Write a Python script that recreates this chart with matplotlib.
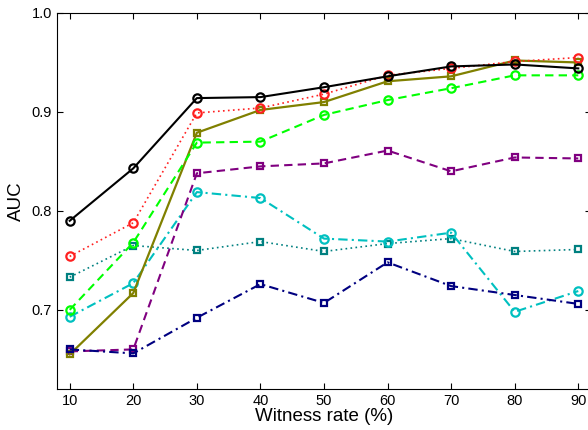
import matplotlib
matplotlib.use("Agg")
import matplotlib.pyplot as plt

plt.rcParams['font.family'] = ['Liberation Sans', 'DejaVu Sans']

rates = [10, 20, 30, 40, 50, 60, 70, 80, 90]
auc_black = [0.790, 0.843, 0.914, 0.915, 0.925, 0.936, 0.946, 0.948, 0.944]
auc_red = [0.754, 0.788, 0.899, 0.904, 0.918, 0.937, 0.944, 0.951, 0.955]
auc_olive = [0.655, 0.717, 0.879, 0.902, 0.910, 0.931, 0.936, 0.952, 0.950]
auc_green = [0.700, 0.768, 0.869, 0.870, 0.897, 0.912, 0.924, 0.937, 0.937]
auc_purple = [0.658, 0.660, 0.838, 0.845, 0.848, 0.861, 0.840, 0.854, 0.853]
auc_cyan = [0.693, 0.727, 0.819, 0.813, 0.772, 0.769, 0.778, 0.698, 0.719]
auc_teal = [0.733, 0.765, 0.760, 0.769, 0.759, 0.767, 0.772, 0.759, 0.761]
auc_navy = [0.660, 0.656, 0.692, 0.726, 0.707, 0.748, 0.724, 0.715, 0.706]

dotted = (0, (1, 2))
dashed = (0, (4, 2.5))
dashdot = (0, (4.5, 2, 1, 2))

series = [
    (auc_teal, '#008080', dotted, 's', 1.2),
    (auc_cyan, '#00c0c0', dashdot, 'o', 1.5),
    (auc_purple, '#800080', dashed, 's', 1.5),
    (auc_olive, '#808000', '-', 's', 1.6),
    (auc_navy, '#000080', dashdot, 's', 1.5),
    (auc_green, '#00ff00', dashed, 'o', 1.5),
    (auc_red, '#ff2020', dotted, 'o', 1.2),
    (auc_black, '#000000', '-', 'o', 1.5),
]

fig = plt.figure(figsize=(5.88, 4.30), dpi=100)
ax = fig.add_axes([57 / 588, 41 / 430, 534 / 588, 376 / 430])

for vals, c, ls, mk, lw in series:
    ms = 6 if mk == 'o' else 5
    ax.plot(rates, vals, color=c, linestyle=ls, lw=lw, marker=mk,
            markersize=ms, markerfacecolor='none', markeredgecolor=c, markeredgewidth=1.6)

ax.set_xlim(8, 92)
ax.set_ylim(0.62, 1.0)
ax.set_xticks(rates)
ax.set_yticks([0.7, 0.8, 0.9, 1.0])
ax.set_yticklabels(['0.7', '0.8', '0.9', '1.0'])
ax.tick_params(direction='in', top=True, right=True, labelsize=10.5, length=4)
ax.set_xlabel('Witness rate (%)', fontsize=13.5, labelpad=0)
ax.set_ylabel('AUC', fontsize=13.5, labelpad=5)

fig.savefig('out.png', dpi=100)
